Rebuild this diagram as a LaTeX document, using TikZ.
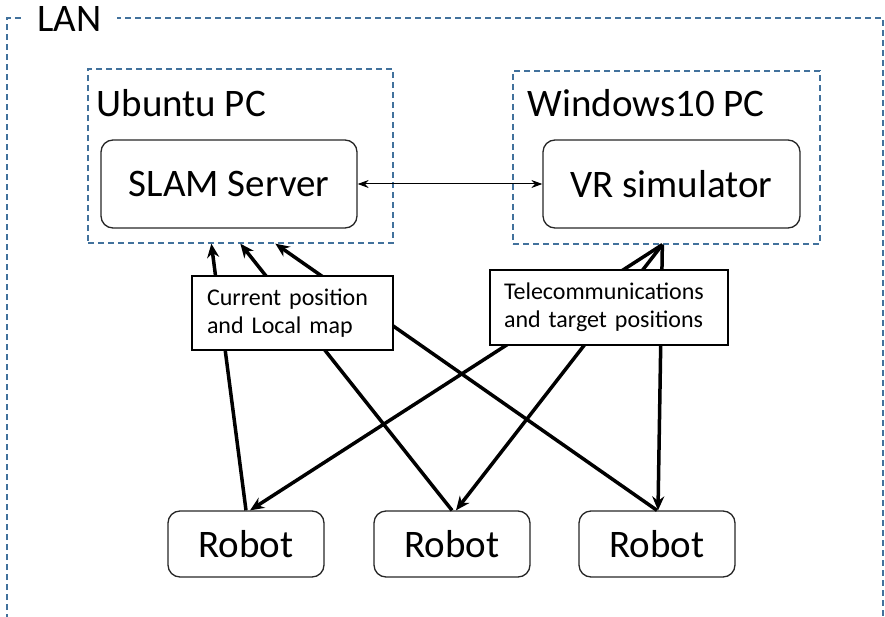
\documentclass[tikz,border=0pt]{standalone}
\usepackage{fontspec}
\setmainfont{Carlito}
\usetikzlibrary{arrows.meta, positioning}
\definecolor{lanblue}{RGB}{65,113,156}

\begin{document}
\begin{tikzpicture}[
        x=1pt, y=-1pt, on grid, >={Stealth[length=14pt,width=12pt]},
        group/.style={draw=lanblue, line width=1.3pt, dash pattern=on 6pt off 4pt},
        title/.style={anchor=base west, inner sep=0pt, font=\fontsize{39}{46}\selectfont},
        proc/.style={draw=black!85, line width=1.3pt, rounded corners=12pt,
          inner sep=0pt, font=\fontsize{39}{46}\selectfont},
        robot/.style={proc, minimum width=156pt, minimum height=66pt},
        note/.style={draw, fill=white, line width=1.3pt, align=left,
          inner ysep=0pt, font=\fontsize{24}{28}\selectfont},
        link/.style={->, line width=3.5pt},
        ]
        \useasboundingbox (0,0) rectangle (885,617);

        % LAN border, open at the bottom
        \draw[group] (7,650) -- (7,18) -- (883,18) -- (883,650);
        \node[title, fill=white, inner xsep=16pt] (lan) at (21,32) {LAN};

        % the two PCs
        \node[group, minimum width=305pt, minimum height=174pt] (ubuntu) at (240.5,156) {};
        \node[group, minimum width=307pt, minimum height=173pt] (windows) at (666.5,157.5) {};
        \node[title] (ubuntutitle) at ([xshift=9pt, yshift=-48pt]ubuntu.north west) {Ubuntu PC};
        \node[title] (windowstitle) at ([xshift=15pt, yshift=-46pt]windows.north west) {Windows10 PC};

        \node[proc, minimum width=256pt, minimum height=88pt] (slam) at (229,184) {SLAM Server};
        \node[proc, minimum width=257pt, minimum height=88pt] (vr) [right=442.5pt of slam] {VR simulator};
        \draw[<->, line width=1pt, >={Stealth[length=11pt,width=8pt]}] (slam) -- (vr);

        % robots
        \node[robot] (robot1) at (246,544) {Robot};
        \node[robot] (robot2) [right=206pt of robot1] {Robot};
        \node[robot] (robot3) [right=205pt of robot2] {Robot};

        % robots -> SLAM server
        \draw[link] (robot1.north) -- ([xshift=124pt]ubuntu.south west);
        \draw[link] (robot2.north) -- ([xshift=153pt]ubuntu.south west);
        \draw[link] (robot3.north) -- ([xshift=188pt]ubuntu.south west);
        % VR simulator -> robots
        \draw[link] ([xshift=150pt]windows.south west) -- ([xshift=4pt]robot1.north);
        \draw[link] ([xshift=150pt]windows.south west) -- ([xshift=4pt]robot2.north);
        \draw[link] ([xshift=150pt]windows.south west) -- ([xshift=1pt]robot3.north);

        \node[note, inner xsep=15pt, text width=171pt, minimum height=74pt] (posnote) at (292.5,313)
          {Current position\\and Local map};
        \node[note, inner xsep=14pt, text width=210pt, minimum height=75pt] (targetnote) at (609,307.5)
          {Telecommunications\\and target positions};
\end{tikzpicture}
\end{document}
